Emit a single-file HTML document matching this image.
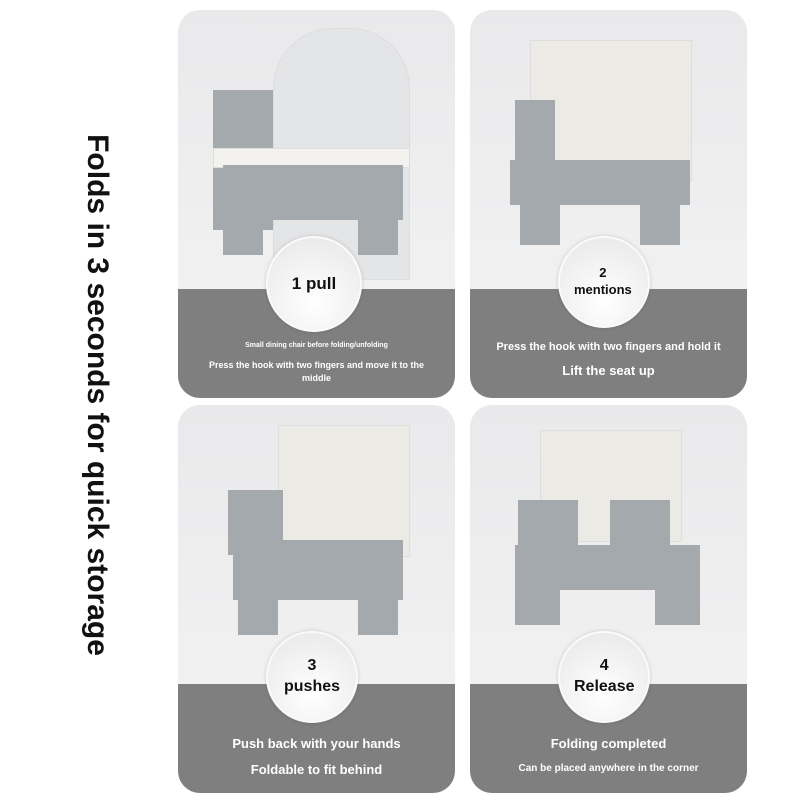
<!DOCTYPE html>
<html><head><style>
body{margin:0;width:800px;height:800px;background:#fff;position:relative;overflow:hidden;font-family:"Liberation Sans",sans-serif}
.side{position:absolute;left:97px;top:395px;transform:translate(-50%,-50%) rotate(90deg);white-space:nowrap;font-size:30px;font-weight:bold;color:#111}
.card{position:absolute;width:277px;height:388px;border-radius:22px;overflow:hidden;background:linear-gradient(#e9e9eb,#f4f4f4)}
.band{position:absolute;left:0;right:0;bottom:0;height:109px;background:#7f7f7f}
.circ{position:absolute;width:92px;height:92px;border-radius:50%;background:radial-gradient(circle at 50% 70%,#fff,#e6e6e6);border:2px solid #fafafa;box-shadow:0 0 4px rgba(0,0,0,.15);left:87px;top:226px;display:flex;align-items:center;justify-content:center;flex-direction:column;font-weight:bold;color:#111;font-size:17px;text-align:center;line-height:1.3}
.t{position:absolute;left:0;right:0;text-align:center;color:#fff;font-weight:bold}
.gray{position:absolute;background:#a3a9ad}
.wht{position:absolute;background:#f4f2ee;border:1px solid #ddd}
</style></head><body>
<div class="side">Folds in 3 seconds for quick storage</div>

<div class="card" style="left:178px;top:10px">
 <div class="wht" style="left:95px;top:18px;width:135px;height:250px;border-radius:60px 60px 0 0;background:#e4e5e7"></div>
 <div class="gray" style="left:35px;top:80px;width:60px;height:140px"></div>
 <div class="wht" style="left:35px;top:138px;width:195px;height:18px"></div>
 <div class="gray" style="left:45px;top:155px;width:180px;height:55px"></div>
 <div class="gray" style="left:45px;top:205px;width:40px;height:40px"></div>
 <div class="gray" style="left:180px;top:205px;width:40px;height:40px"></div>
 <div class="band"></div>
 <div class="circ" style="left:88px;top:226px">1 pull</div>
 <div class="t" style="top:332px;font-size:7px">Small dining chair before folding/unfolding</div>
 <div class="t" style="top:349px;font-size:9px;line-height:13px;padding:0 20px">Press the hook with two fingers and move it to the middle</div>
</div>

<div class="card" style="left:470px;top:10px">
 <div class="wht" style="left:60px;top:30px;width:160px;height:140px;background:#eceae4"></div>
 <div class="gray" style="left:45px;top:90px;width:40px;height:100px"></div>
 <div class="gray" style="left:40px;top:150px;width:180px;height:45px"></div>
 <div class="gray" style="left:50px;top:190px;width:40px;height:45px"></div>
 <div class="gray" style="left:170px;top:190px;width:40px;height:45px"></div>
 <div class="band"></div>
 <div class="circ" style="left:88px;top:226px;font-size:13px;align-items:flex-start;padding-left:14px;box-sizing:border-box">2<br>mentions</div>
 <div class="t" style="top:331px;font-size:11px">Press the hook with two fingers and hold it</div>
 <div class="t" style="top:353px;font-size:13px">Lift the seat up</div>
</div>

<div class="card" style="left:178px;top:405px">
 <div class="wht" style="left:100px;top:20px;width:130px;height:130px;background:#eceae4"></div>
 <div class="gray" style="left:50px;top:85px;width:55px;height:65px"></div>
 <div class="gray" style="left:55px;top:135px;width:170px;height:60px"></div>
 <div class="gray" style="left:60px;top:190px;width:40px;height:40px"></div>
 <div class="gray" style="left:180px;top:190px;width:40px;height:40px"></div>
 <div class="band"></div>
 <div class="circ" style="left:88px;top:226px;font-size:16px;align-items:flex-start;padding-left:16px;box-sizing:border-box">3<br>pushes</div>
 <div class="t" style="top:331px;font-size:13px">Push back with your hands</div>
 <div class="t" style="top:357px;font-size:13px">Foldable to fit behind</div>
</div>

<div class="card" style="left:470px;top:405px">
 <div class="wht" style="left:70px;top:25px;width:140px;height:110px;background:#eceae4"></div>
 <div class="gray" style="left:48px;top:95px;width:60px;height:70px"></div>
 <div class="gray" style="left:140px;top:95px;width:60px;height:70px"></div>
 <div class="gray" style="left:45px;top:140px;width:185px;height:45px"></div>
 <div class="gray" style="left:45px;top:180px;width:45px;height:40px"></div>
 <div class="gray" style="left:185px;top:180px;width:45px;height:40px"></div>
 <div class="band"></div>
 <div class="circ" style="left:88px;top:226px;font-size:16px;align-items:flex-start;padding-left:14px;box-sizing:border-box">4<br>Release</div>
 <div class="t" style="top:331px;font-size:13px">Folding completed</div>
 <div class="t" style="top:358px;font-size:10px">Can be placed anywhere in the corner</div>
</div>
</body></html>
